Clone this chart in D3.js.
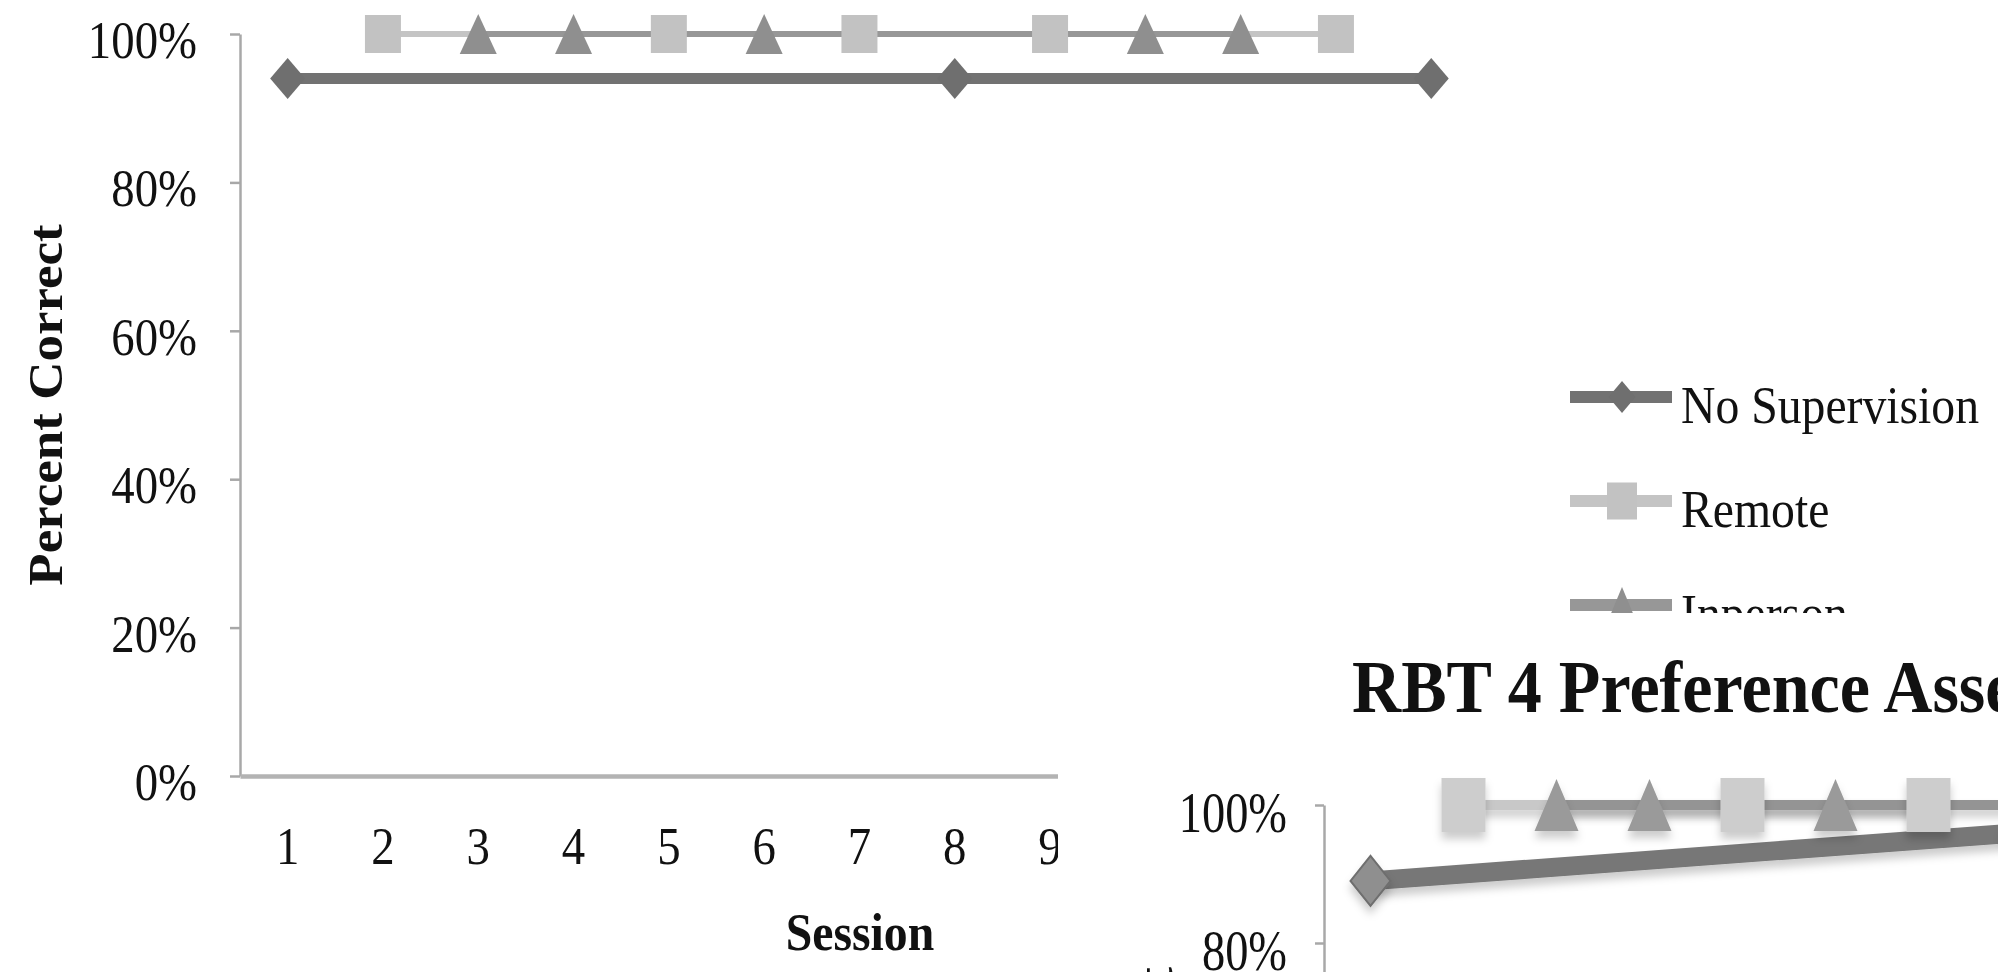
<!DOCTYPE html>
<html>
<head>
<meta charset="utf-8">
<script src="https://cdn.jsdelivr.net/npm/d3@7"></script>
<style>
  body { margin: 0; background: #fff; }
  text { font-family: "Liberation Serif", "Times New Roman", serif; fill: #111; }
</style>
</head>
<body>
<div id="chart"></div>
<script>
// ---- data, first chart ----
const sessions = [1, 2, 3, 4, 5, 6, 7, 8, 9, 10, 11, 12, 13];
const yTicks = [0, 20, 40, 60, 80, 100];
const noSupSessions = [1, 8, 13];
const noSupValues = [94, 94, 94];
const remoteSessions = [2, 5, 7, 9, 12];
const remoteValues = [100, 100, 100, 100, 100];
const inpersonSessions = [3, 4, 6, 10, 11];
const inpersonValues = [100, 100, 100, 100, 100];
const seriesNames = ["No Supervision", "Remote", "Inperson"];

// ---- data, second chart (partly covered, cut at the page edge) ----
const sessions2 = [1, 2, 3, 4, 5, 6, 7, 8, 9];
const noSup2Sessions = [1, 8];
const noSup2Values = [89, 96];
const remote2Sessions = [2, 5, 7];
const remote2Values = [100, 100, 100];
const inperson2Sessions = [3, 4, 6, 9];
const inperson2Values = [100, 100, 100, 100];
const title2 = "RBT 4 Preference Assessment";

const width = 1998, height = 972;
const svg = d3.select("#chart").append("svg")
    .attr("width", width)
    .attr("height", height);

const defs = svg.append("defs");
// user-space region so flat (zero-height) lines still get drawn
defs.append("filter").attr("id", "shadow")
    .attr("filterUnits", "userSpaceOnUse")
    .attr("x", 0).attr("y", 0).attr("width", width).attr("height", height)
    .append("feDropShadow")
    .attr("dx", 0).attr("dy", 7).attr("stdDeviation", 4)
    .attr("flood-color", "#000").attr("flood-opacity", 0.2);
defs.append("clipPath").attr("id", "clip2")
    .append("rect").attr("x", 1058).attr("y", 613).attr("width", 940).attr("height", 359);

// marker outline, centred on 0,0
function marker(type, w, h) {
    const a = w / 2, b = h / 2;
    if (type === "diamond") return `M0,${-b}L${a},0L0,${b}L${-a},0Z`;
    if (type === "square") return `M${-a},${-b}H${a}V${b}H${-a}Z`;
    return `M0,${-b}L${a},${b}H${-a}Z`;
}

// text squeezed sideways like the source picture
function squeezed(g, x, y, txt, size, sx, opts) {
    opts = opts || {};
    return g.append("text")
        .attr("transform", `translate(${x},${y}) scale(${sx},1)` + (opts.rotate ? ` rotate(${opts.rotate})` : ""))
        .attr("text-anchor", opts.anchor || "start")
        .attr("font-weight", opts.bold ? "bold" : null)
        .style("font-size", size + "px")
        .text(txt);
}

function styleAxis(ax, color, lw, size) {
    ax.attr("font-family", null).attr("font-size", null);
    ax.select(".domain").attr("stroke", color).attr("stroke-width", lw);
    ax.selectAll(".tick line").attr("stroke", color).attr("stroke-width", 2.5);
    ax.selectAll(".tick text").style("font-size", size + "px").attr("fill", "#111");
}

// ================= first chart =================
const x1 = d3.scaleBand().domain(sessions).range([240, 240 + 13 * 95.3]);
const y1 = d3.scaleLinear().domain([0, 100]).range([776, 34]);
const cx1 = s => x1(s) + x1.bandwidth() / 2;

const g1 = svg.append("g");

const yAx1 = g1.append("g")
    .attr("transform", "translate(240,0)")
    .call(d3.axisLeft(y1).tickValues(yTicks).tickFormat(d => d + "%").tickSize(10).tickSizeOuter(0));
styleAxis(yAx1, "#a8a8a8", 2.5, 52);
yAx1.selectAll(".tick text")
    .attr("x", -43 / 0.9)
    .attr("dy", "0.45em")
    .attr("transform", "scale(0.9,1)");

const xAx1 = g1.append("g")
    .attr("transform", "translate(0,776)")
    .call(d3.axisBottom(x1).tickSize(0).tickPadding(51).tickSizeOuter(0));
styleAxis(xAx1, "#b3b3b3", 4.5, 52);
xAx1.selectAll(".tick text").attr("transform", "scale(0.9,1)");

squeezed(g1, 860, 950, "Session", 53, 0.9, { anchor: "middle", bold: true });
squeezed(g1, 62, 405, "Percent Correct", 53, 0.9, { anchor: "middle", bold: true, rotate: -90 });

const series1 = [
    { name: seriesNames[0], s: noSupSessions, v: noSupValues, line: "#727272", fill: "#6f6f6f", lw: 11, shape: "diamond", w: 35, h: 41, lm: [27, 32] },
    { name: seriesNames[1], s: remoteSessions, v: remoteValues, line: "#c4c4c4", fill: "#c2c2c2", lw: 6, shape: "square", w: 36, h: 38, lm: [30, 37] },
    { name: seriesNames[2], s: inpersonSessions, v: inpersonValues, line: "#979797", fill: "#8f8f8f", lw: 6, shape: "triangle", w: 37, h: 40, lm: [30, 36] }
];

const line1 = d3.line().x(d => cx1(d[0])).y(d => y1(d[1]));
series1.forEach(sr => {
    g1.append("path")
        .attr("d", line1(d3.zip(sr.s, sr.v)))
        .attr("fill", "none").attr("stroke", sr.line).attr("stroke-width", sr.lw);
});
series1.forEach(sr => {
    g1.append("g").selectAll("path")
        .data(d3.zip(sr.s, sr.v))
        .join("path")
        .attr("transform", d => `translate(${cx1(d[0])},${y1(d[1])})`)
        .attr("d", marker(sr.shape, sr.w, sr.h))
        .attr("fill", sr.fill);
});

// legend
const legend = g1.append("g");
const legendY = d3.scalePoint().domain(seriesNames).range([397, 605]);
series1.forEach(sr => {
    const ly = legendY(sr.name);
    legend.append("line")
        .attr("x1", 1570).attr("x2", 1672).attr("y1", ly).attr("y2", ly)
        .attr("stroke", sr.line).attr("stroke-width", 12);
    legend.append("path")
        .attr("transform", `translate(1622,${ly})`)
        .attr("d", marker(sr.shape, sr.lm[0], sr.lm[1]))
        .attr("fill", sr.fill);
    squeezed(legend, 1681, ly + 26, sr.name, 53, 0.9);
});

// ================= second chart, pasted over the corner =================
svg.append("rect")
    .attr("x", 1058).attr("y", 613).attr("width", 940).attr("height", 359)
    .attr("fill", "#fff");

const g2 = svg.append("g").attr("clip-path", "url(#clip2)");
const x2 = d3.scaleBand().domain(sessions2).range([1324, 1324 + 9 * 93]);
const y2 = d3.scaleLinear().domain([0, 100]).range([1495, 805]);
const cx2 = s => x2(s) + x2.bandwidth() / 2;

squeezed(g2, 1352, 712, title2, 74, 0.92, { bold: true });
squeezed(g2, 1172, 967, "Percent Correct", 60, 0.9, { anchor: "end", bold: true, rotate: -90 });

const yAx2 = g2.append("g")
    .attr("transform", "translate(1324,0)")
    .call(d3.axisLeft(y2).tickValues(yTicks).tickFormat(d => d + "%").tickSize(9).tickSizeOuter(0));
styleAxis(yAx2, "#a8a8a8", 2.5, 58);
yAx2.selectAll(".tick text")
    .attr("x", -37 / 0.8)
    .attr("dy", "0.45em")
    .attr("transform", "scale(0.8,1)");

const series2 = [
    { s: noSup2Sessions, v: noSup2Values, line: "#777777", fill: "#8f8f8f", stroke: "#6e6e6e", lw: 19, shape: "diamond", w: 40, h: 50 },
    { s: remote2Sessions, v: remote2Values, line: "#c8c8c8", fill: "#cdcdcd", stroke: "none", lw: 10, shape: "square", w: 44, h: 54 },
    { s: inperson2Sessions, v: inperson2Values, line: "#949494", fill: "#9a9a9a", stroke: "none", lw: 10, shape: "triangle", w: 44, h: 52 }
];

const line2 = d3.line().x(d => cx2(d[0])).y(d => y2(d[1]));
series2.forEach(sr => {
    g2.append("path")
        .attr("d", line2(d3.zip(sr.s, sr.v)))
        .attr("fill", "none").attr("stroke", sr.line).attr("stroke-width", sr.lw)
        .attr("filter", "url(#shadow)");
});
series2.forEach(sr => {
    g2.append("g").attr("filter", "url(#shadow)").selectAll("path")
        .data(d3.zip(sr.s, sr.v))
        .join("path")
        .attr("transform", d => `translate(${cx2(d[0])},${y2(d[1])})`)
        .attr("d", marker(sr.shape, sr.w, sr.h))
        .attr("fill", sr.fill)
        .attr("stroke", sr.stroke).attr("stroke-width", 2);
});
</script>
</body>
</html>
